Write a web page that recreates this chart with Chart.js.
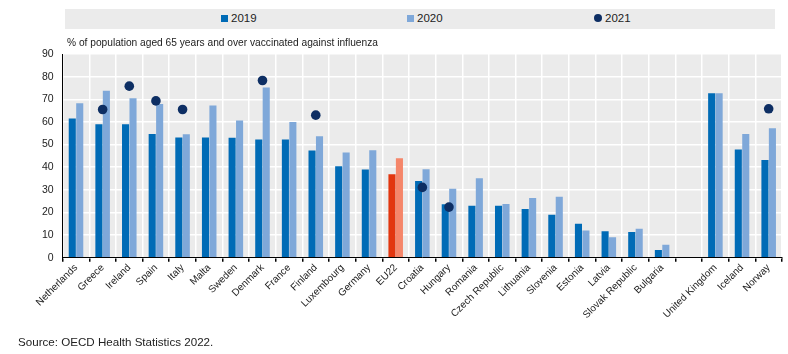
<!DOCTYPE html>
<html>
<head>
<meta charset="utf-8">
<script src="https://cdn.jsdelivr.net/npm/chart.js@4/dist/chart.umd.min.js"></script>
<style>
  body { margin: 0; background: #fff; font-family: "Liberation Sans", Arial, sans-serif; }
  #wrap { position: relative; width: 788px; height: 354px; }
  #legend { position: absolute; left: 65px; top: 9px; width: 710px; height: 20px; background: #ebebeb; font-size: 11.5px; color: #222; }
  .item { position: absolute; top: 3px; }
  .sq { display: inline-block; width: 7px; height: 7px; margin-right: 3px; }
  .dot { display: inline-block; width: 8px; height: 8px; border-radius: 50%; margin-right: 3px; }
  #subtitle { position: absolute; left: 67px; top: 37px; font-size: 10.2px; color: #222; }
  #source { position: absolute; left: 18px; top: 335px; font-size: 11.6px; color: #222; }
</style>
</head>
<body>
<div id="wrap">
  <canvas id="myChart" width="788" height="354"></canvas>
  <div id="legend">
    <span class="item" style="left:156px"><span class="sq" style="background:#006bb6"></span>2019</span>
    <span class="item" style="left:342px"><span class="sq" style="background:#7fa8d9"></span>2020</span>
    <span class="item" style="left:529px"><span class="dot" style="background:#0d2e63"></span>2021</span>
  </div>
  <div id="subtitle">% of population aged 65 years and over vaccinated against influenza</div>
  <div id="source">Source: OECD Health Statistics 2022.</div>
</div>
<script>
// categories (empty slot before the non-EU countries)
const countries = ["Netherlands", "Greece", "Ireland", "Spain", "Italy", "Malta", "Sweden", "Denmark", "France", "Finland",
  "Luxembourg", "Germany", "EU22", "Croatia", "Hungary", "Romania", "Czech Republic", "Lithuania", "Slovenia", "Estonia",
  "Latvia", "Slovak Republic", "Bulgaria", "", "United Kingdom", "Iceland", "Norway"];

const values2019 = [61.5, 59, 59, 54.7, 53.1, 53.1, 53, 52.2, 52.2, 47.4,
  40.4, 39, 36.9, 33.9, 23.6, 23, 23, 21.5, 19, 15,
  11.7, 11.4, 3.4, null, 72.7, 47.8, 43.2];

const values2020 = [68.2, 73.8, 70.5, 67.9, 54.6, 67.3, 60.6, 75.2, 60, 53.7,
  46.5, 47.5, 44, 39.1, 30.5, 35.1, 23.8, 26.4, 27, 12.1,
  9.1, 12.8, 5.8, null, 72.7, 54.7, 57.2];

const values2021 = [null, 65.5, 75.8, 69.3, 65.5, null, null, 78.3, null, 63,
  null, null, null, 31.1, 22.4, null, null, null, null, null,
  null, null, null, null, null, null, 65.8];

const yTicks = [0, 10, 20, 30, 40, 50, 60, 70, 80, 90];

// EU22 gets the red colours
const euIndex = countries.indexOf("EU22");
const colors2019 = countries.map((c, i) => (i === euIndex ? "#e2360f" : "#006bb6"));
const colors2020 = countries.map((c, i) => (i === euIndex ? "#f5866a" : "#7fa8d9"));

// grey plot background
const plotBackground = {
  id: "plotBackground",
  beforeDraw(chart) {
    const { ctx, chartArea } = chart;
    ctx.save();
    ctx.fillStyle = "#ebebeb";
    ctx.fillRect(chartArea.left, chartArea.top, chartArea.right - chartArea.left, chartArea.bottom - chartArea.top);
    ctx.restore();
  },
};

Chart.defaults.font.family = '"Liberation Sans", Arial, sans-serif';
Chart.defaults.color = "#222";

const ctx = document.getElementById("myChart");
new Chart(ctx, {
  type: "bar",
  data: {
    labels: countries,
    datasets: [
      {
        type: "line",
        label: "2021",
        data: values2021,
        showLine: false,
        pointRadius: 4.8,
        pointHoverRadius: 4.8,
        backgroundColor: "#0d2e63",
        borderColor: "#0d2e63",
        borderWidth: 0,
        order: 0,
      },
      {
        label: "2019",
        data: values2019,
        backgroundColor: colors2019,
        categoryPercentage: 0.56,
        barPercentage: 0.95,
        order: 1,
      },
      {
        label: "2020",
        data: values2020,
        backgroundColor: colors2020,
        categoryPercentage: 0.56,
        barPercentage: 0.95,
        order: 1,
      },
    ],
  },
  options: {
    responsive: false,
    animation: false,
    layout: { padding: { top: 54, left: 33, right: 6, bottom: 33 } },
    scales: {
      x: {
        grid: { color: "#fff", lineWidth: 1.5, tickColor: "#000", tickLength: 4, offset: true },
        border: { color: "#000", width: 1 },
        ticks: { autoSkip: false, maxRotation: 45, minRotation: 45, font: { size: 10 }, padding: 0 },
      },
      y: {
        min: 0,
        max: 90,
        afterBuildTicks: (axis) => { axis.ticks = yTicks.map((v) => ({ value: v })); },
        grid: { color: "#fff", lineWidth: 1.5, drawTicks: false },
        border: { color: "#000", width: 1 },
        ticks: { font: { size: 10.5 }, padding: 9 },
      },
    },
    plugins: {
      legend: { display: false },
      tooltip: { enabled: false },
    },
  },
  plugins: [plotBackground],
});
</script>
</body>
</html>
